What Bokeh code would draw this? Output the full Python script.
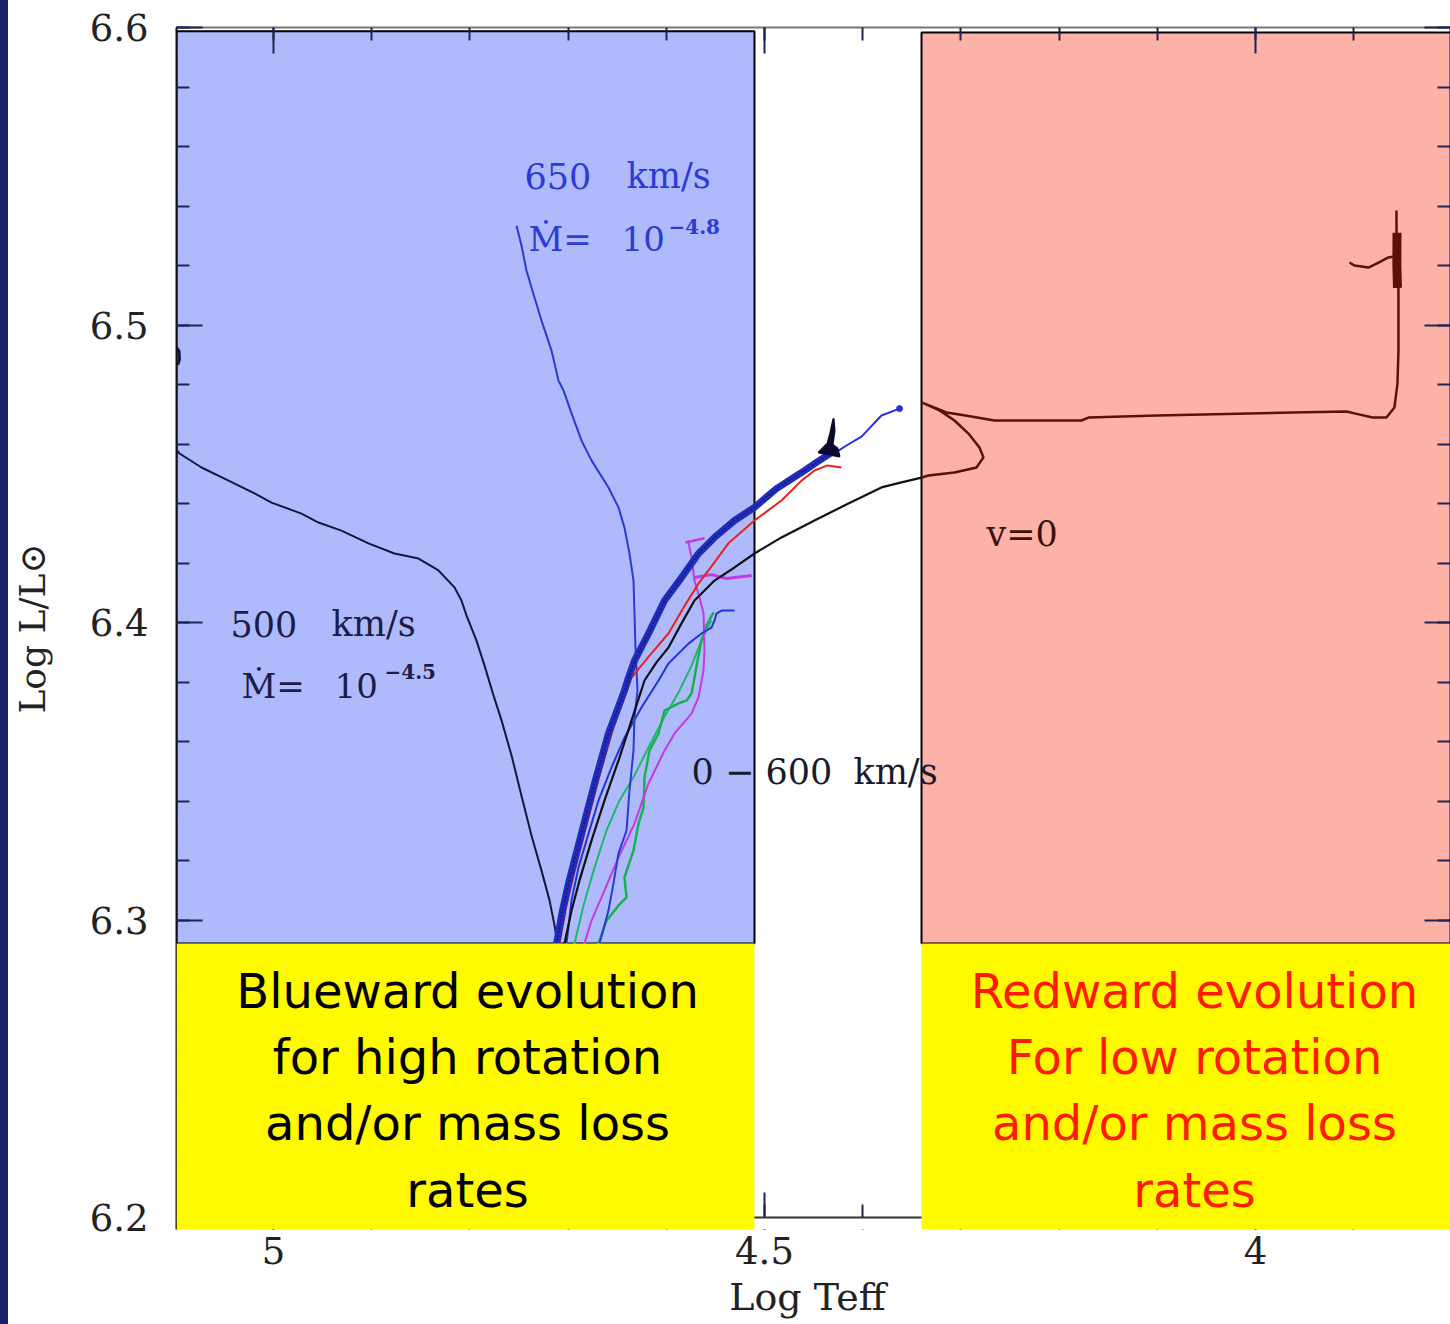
import numpy as np
from bokeh.plotting import figure
from bokeh.models import (Range1d, LinearAxis, FixedTicker, Label, BoxAnnotation, Span, Div)
from bokeh.layouts import row
from bokeh.embed import file_html
from bokeh.resources import INLINE

# ---------------- data (log Teff, log L/Lsun) ----------------
x_ticks = [5.0, 4.5, 4.0]
x_minor = [round(3.8 + 0.1 * i, 2) for i in range(14)]
y_ticks = [6.2, 6.3, 6.4, 6.5, 6.6]
y_minor = [round(6.2 + 0.02 * i, 2) for i in range(21)]

# 500 km/s, Mdot=10^-4.5 track
v500_T = [5.0988, 5.0957, 5.0733, 5.0458, 5.0193, 5.0020, 4.9715, 4.9542, 4.9308, 4.9033,
          4.8768, 4.8523, 4.8320, 4.8157, 4.8086, 4.8035, 4.7933, 4.7851, 4.7760, 4.7678,
          4.7576, 4.7475, 4.7373, 4.7271, 4.7189, 4.7138, 4.7108, 4.7090]
v500_L = [6.4580, 6.4568, 6.4521, 6.4477, 6.4434, 6.4403, 6.4366, 6.4336, 6.4309, 6.4266,
          6.4232, 6.4215, 6.4175, 6.4118, 6.4074, 6.4024, 6.3939, 6.3855, 6.3755, 6.3671,
          6.3553, 6.3418, 6.3284, 6.3166, 6.3066, 6.2981, 6.2921, 6.2850]
v500_edge_T = [5.0990, 5.0962, 5.0958, 5.0975]
v500_edge_L = [6.4925, 6.4912, 6.4885, 6.4866]

# 650 km/s, Mdot=10^-4.8 track
v650_T = [4.6720, 4.6680, 4.6589, 4.6538, 4.6487, 4.6405, 4.6375, 4.6334, 4.6324, 4.6293,
          4.6314, 4.6324, 4.6334, 4.6375, 4.6426, 4.6487, 4.6589, 4.6762, 4.6864, 4.6965,
          4.7047, 4.7098, 4.7169, 4.7271, 4.7373, 4.7424, 4.7475, 4.7525]
v650_L = [6.2850, 6.2921, 6.3032, 6.3123, 6.3224, 6.3301, 6.3435, 6.3570, 6.3681, 6.3771,
          6.3916, 6.4030, 6.4141, 6.4232, 6.4319, 6.4387, 6.4454, 6.4545, 6.4612, 6.4703,
          6.4780, 6.4813, 6.4914, 6.5015, 6.5126, 6.5183, 6.5267, 6.5334]

# bundle of blue 0-600 km/s tracks
bund_T = [4.7150, 4.7118, 4.7057, 4.6996, 4.6864, 4.6731, 4.6589, 4.6426, 4.6385, 4.6324,
          4.6181, 4.6018, 4.5845, 4.5672, 4.5509, 4.5305, 4.5102, 4.4878, 4.4623, 4.4470,
          4.4318, 4.4247]
bund_L = [6.2850, 6.2921, 6.3032, 6.3123, 6.3291, 6.3459, 6.3627, 6.3771, 6.3815, 6.3872,
          6.3963, 6.4074, 6.4151, 6.4232, 6.4286, 6.4343, 6.4387, 6.4450, 6.4504, 6.4538,
          6.4571, 6.4578]
bund_ext_T = [4.4247, 4.4165, 4.4012, 4.3809, 4.3625]
bund_ext_L = [6.4578, 6.4595, 6.4625, 6.4696, 6.4719]
hook_T = [4.4297, 4.4328, 4.4358, 4.4450, 4.4236, 4.4257, 4.4307, 4.4287]
hook_L = [6.4686, 6.4639, 6.4602, 6.4571, 6.4558, 6.4585, 6.4598, 6.4645]

# red track
red_T = [4.7120, 4.7088, 4.7016, 4.6945, 4.6813, 4.6680, 4.6538, 4.6354, 4.6171, 4.5978,
         4.5825, 4.5672, 4.5519, 4.5367, 4.5102, 4.4827, 4.4623, 4.4491, 4.4358, 4.4216]
red_L = [6.2850, 6.2921, 6.3049, 6.3149, 6.3318, 6.3486, 6.3647, 6.3815, 6.3889, 6.3963,
         6.4050, 6.4131, 6.4198, 6.4266, 6.4343, 6.4410, 6.4477, 6.4511, 6.4528, 6.4521]

# v=0 track (hot part, then cool part)
v0_T = [4.7060, 4.7037, 4.6965, 4.6884, 4.6762, 4.6629, 4.6487, 4.6354, 4.6222, 4.6100,
        4.5978, 4.5845, 4.5713, 4.5509, 4.5305, 4.5102, 4.4827, 4.4491, 4.4145, 4.3809,
        4.3605, 4.3401]
v0_L = [6.2850, 6.2921, 6.3032, 6.3133, 6.3267, 6.3402, 6.3536, 6.3671, 6.3805, 6.3866,
        6.3916, 6.3997, 6.4074, 6.4141, 6.4185, 6.4232, 6.4286, 6.4343, 6.4400, 6.4454,
        6.4471, 6.4487]
v0c_T = [4.3401, 4.3330, 4.3065, 4.2841, 4.2770, 4.2811, 4.2923, 4.3065, 4.3218, 4.3401,
         4.3147, 4.2953, 4.2658, 4.1772, 4.1701, 4.0998, 3.9623, 3.9073, 3.8992, 3.8808,
         3.8666, 3.8585, 3.8554, 3.8544, 3.8544, 3.8554, 3.8564, 3.8564]
v0c_L = [6.4487, 6.4494, 6.4504, 6.4521, 6.4555, 6.4588, 6.4635, 6.4679, 6.4713, 6.4740,
         6.4706, 6.4696, 6.4679, 6.4679, 6.4689, 6.4696, 6.4706, 6.4709, 6.4703, 6.4689,
         6.4689, 6.4723, 6.4803, 6.4914, 6.5116, 6.5217, 6.5318, 6.5385]
v0blob_T = [3.8559, 3.8560, 3.8554]
v0blob_L = [6.5310, 6.5200, 6.5125]
v0hook_T = [3.8590, 3.8646, 3.8747, 3.8849, 3.8992, 3.9043]
v0hook_L = [6.5230, 6.5227, 6.5210, 6.5193, 6.5200, 6.5210]

# thin blue track
blu_T = [4.7050, 4.7016, 4.6965, 4.6894, 4.6792, 4.6690, 4.6558, 4.6426, 4.6253, 4.6079,
         4.5978, 4.5774, 4.5642, 4.5540, 4.5509, 4.5489, 4.5438, 4.5305]
blu_L = [6.2850, 6.2921, 6.3066, 6.3177, 6.3291, 6.3402, 6.3513, 6.3613, 6.3714, 6.3805,
         6.3862, 6.3929, 6.3963, 6.3983, 6.4007, 6.4030, 6.4040, 6.4040]

# green tracks
grn1_T = [4.6960, 4.6935, 4.6843, 4.6741, 4.6609, 4.6477, 4.6324, 4.6171, 4.6029, 4.5866,
          4.5743, 4.5642, 4.5540]
grn1_L = [6.2850, 6.2921, 6.3049, 6.3166, 6.3301, 6.3402, 6.3486, 6.3587, 6.3677, 6.3771,
          6.3855, 6.3939, 6.4007]
grn2_T = [4.6720, 4.6690, 4.6609, 4.6487, 4.6405, 4.6426, 4.6334, 4.6283, 4.6232, 4.6222,
          4.6171, 4.6079, 4.6018, 4.5876, 4.5794, 4.5743, 4.5713, 4.5672, 4.5642, 4.5591,
          4.5519]
grn2_L = [6.2850, 6.2921, 6.2998, 6.3049, 6.3076, 6.3143, 6.3234, 6.3324, 6.3378, 6.3479,
          6.3570, 6.3627, 6.3704, 6.3728, 6.3738, 6.3761, 6.3815, 6.3889, 6.3939, 6.3990,
          6.4034]

# magenta track
mag_T = [4.6860, 4.6833, 4.6762, 4.6660, 4.6487, 4.6324, 4.6181, 4.6018, 4.5916, 4.5743,
         4.5672, 4.5621, 4.5611, 4.5621, 4.5662, 4.5713, 4.5743, 4.5764, 4.5774]
mag_L = [6.2850, 6.2921, 6.2998, 6.3076, 6.3210, 6.3324, 6.3459, 6.3570, 6.3627, 6.3694,
         6.3748, 6.3839, 6.3906, 6.4030, 6.4084, 6.4141, 6.4218, 6.4252, 6.4276]
mag_s1_T = [4.5805, 4.5611]
mag_s1_L = [6.4269, 6.4283]
mag_s2_T = [4.5713, 4.5540, 4.5387, 4.5132]
mag_s2_L = [6.4151, 6.4161, 6.4148, 6.4158]

# shaded regions (log Teff / log L bounds)
blue_zone = dict(left=5.0988, right=4.5102, top=6.5987, bottom=6.2921)
red_zone = dict(left=4.3401, right=3.79, top=6.5983, bottom=6.2921)
yellow_L = dict(left=5.0988, right=4.5102, top=6.2921)
yellow_R = dict(left=4.3401, top=6.2921)
gap_zone = dict(left=4.5102, right=4.3401, top=6.2)

blue_text = ["Blueward evolution", "for high rotation", "and/or mass loss", "rates"]
red_text = ["Redward evolution", "For low rotation", "and/or mass loss", "rates"]

# ---------------- figure ----------------
p = figure(width=1442, height=1324, x_range=Range1d(5.0988, 3.8014),
           y_range=Range1d(6.19597, 6.6),
           output_backend="svg", toolbar_location=None,
           min_border_left=167, min_border_right=0, min_border_top=27, min_border_bottom=95)
p.grid.visible = False
p.outline_line_color = None
p.background_fill_color = "white"
p.border_fill_color = "white"

bot_ax = p.xaxis[0]
left_ax = p.yaxis[0]
top_ax = LinearAxis()
right_ax = LinearAxis()
p.add_layout(top_ax, "above")
p.add_layout(right_ax, "right")

tick_col = "#1f2550"
for ax in [bot_ax, top_ax]:
    ax.ticker = FixedTicker(ticks=x_ticks, minor_ticks=x_minor)
for ax in [left_ax, right_ax]:
    ax.ticker = FixedTicker(ticks=y_ticks, minor_ticks=y_minor)
for ax in [bot_ax, top_ax, left_ax, right_ax]:
    ax.major_tick_in = 26
    ax.major_tick_out = 0
    ax.minor_tick_in = 13
    ax.minor_tick_out = 0
    ax.major_tick_line_color = tick_col
    ax.minor_tick_line_color = tick_col
    ax.major_tick_line_width = 2
    ax.minor_tick_line_width = 2
    ax.axis_line_color = "#111111"
    ax.axis_line_width = 2
    ax.major_label_text_font = "DejaVu Serif"
    ax.major_label_text_font_size = "37px"
    ax.major_label_text_color = "#222222"
    ax.axis_label_text_font = "DejaVu Serif"
    ax.axis_label_text_font_style = "normal"
    ax.axis_label_text_color = "#222222"
# frame-only axes on top and right: ticks without labels
top_ax.major_label_overrides = {t: "" for t in x_ticks}
right_ax.major_label_overrides = {t: "" for t in y_ticks}
for ax in [top_ax, right_ax]:
    ax.major_label_text_font_size = "10px"
    ax.major_label_standoff = 0
top_ax.axis_line_color = "#777777"

left_ax.major_label_standoff = 28
left_ax.axis_label = "Log L/L⊙"
left_ax.axis_label_text_font_size = "36px"
left_ax.axis_label_standoff = 34

# bottom axis sits on the frame edge; its visible line is the Span at log L = 6.2
bot_ax.axis_line_color = None
bot_ax.major_tick_in = 37
bot_ax.minor_tick_in = 25
bot_ax.major_label_standoff = 7
bot_ax.axis_label = "Log  Teff"
bot_ax.axis_label_text_font_size = "38px"
bot_ax.axis_label_standoff = 8

# shaded zones
p.quad(line_color="#000000", line_width=2, fill_color="#afbafc", **blue_zone)
p.quad(line_color="#000000", line_width=2, fill_color="#fdb2a7", **red_zone)

# tracks
p.line(grn1_T, grn1_L, line_color="#1fb86a", line_width=2)
p.line(grn2_T, grn2_L, line_color="#18b050", line_width=2.5)
p.line(mag_T, mag_L, line_color="#c13ae6", line_width=2)
p.line(mag_s1_T, mag_s1_L, line_color="#c13ae6", line_width=2.5)
p.line(mag_s2_T, mag_s2_L, line_color="#c13ae6", line_width=3)
p.line(blu_T, blu_L, line_color="#2233dd", line_width=2)
p.line(v650_T, v650_L, line_color="#2a3ad4", line_width=2)
p.line(v500_T, v500_L, line_color="#15173a", line_width=2)
p.line(v500_edge_T, v500_edge_L, line_color="#15173a", line_width=3)
p.line(v0_T, v0_L, line_color="#111111", line_width=2.2)
p.line(v0c_T, v0c_L, line_color="#5a1206", line_width=2.5)
p.line(v0blob_T, v0blob_L, line_color="#5a1206", line_width=9)
p.line(v0hook_T, v0hook_L, line_color="#5a1206", line_width=2.5)
p.line(red_T, red_L, line_color="#e8231c", line_width=2)
p.line(bund_ext_T, bund_ext_L, line_color="#2233dd", line_width=2)
p.scatter(bund_ext_T[-1:], bund_ext_L[-1:], size=6, color="#2233dd")
p.line(bund_T, bund_L, line_color="#1f2db8", line_width=7)
p.line(bund_T, bund_L, line_color="#101a80", line_width=1.5, line_dash="2 2")
p.patch(hook_T, hook_L, fill_color="#0a0a30", line_color="#0a0a30", line_width=2)

# overlays
p.add_layout(BoxAnnotation(fill_color="white", fill_alpha=1, line_color=None, **gap_zone))
p.add_layout(Span(location=6.2, dimension="width", line_color="#333333", line_width=2))
p.add_layout(BoxAnnotation(fill_color="#fffa00", fill_alpha=1, line_color=None, **yellow_L))
p.add_layout(BoxAnnotation(fill_color="#fffa00", fill_alpha=1, line_color=None, **yellow_R))


def lab(x, y, text, size, color, font="DejaVu Serif", align="left", baseline="alphabetic",
        style="normal"):
    p.add_layout(Label(x=x, y=y, text=text, text_font=font, text_font_size=f"{size}px",
                       text_color=color, text_align=align, text_baseline=baseline,
                       text_font_style=style))


c650 = "#2b3bd3"
lab(4.7444, 6.5502, "650", 35, c650)
lab(4.6405, 6.5502, "km/s", 35, c650)
lab(4.7403, 6.5290, "Ṁ=", 34, c650)
lab(4.6456, 6.5290, "10", 34, c650)
lab(4.5978, 6.5331, "−4.8", 20, c650, style="bold")

c500 = "#1b1d45"
lab(5.0438, 6.3996, "500", 35, c500)
lab(4.9409, 6.3996, "km/s", 35, c500)
lab(5.0326, 6.3788, "Ṁ=", 34, c500)
lab(4.9379, 6.3788, "10", 34, c500)
lab(4.8870, 6.3835, "−4.5", 20, c500, style="bold")

lab(4.5743, 6.3499, "0 − 600", 35, "#1a1a2e")
lab(4.4094, 6.3499, "km/s", 35, "#1a1a2e")
lab(4.2739, 6.4299, "v=0", 35, "#3d1208")

# yellow box texts
rows_L = [6.2763, 6.2538, 6.2316, 6.2091]
for t, yy in zip(blue_text, rows_L):
    lab(4.8024, yy, t, 48, "#000000", font="DejaVu Sans", align="center", baseline="middle")
for t, yy in zip(red_text, rows_L):
    lab(4.0621, yy, t, 48, "#ff1a00", font="DejaVu Sans", align="center", baseline="middle")

strip = Div(text="", width=8, height=1324, margin=0,
            styles={"background-color": "#1c1f6b"})
layout = row(strip, p, spacing=0)

open("out.html", "w").write(file_html(layout, INLINE))
